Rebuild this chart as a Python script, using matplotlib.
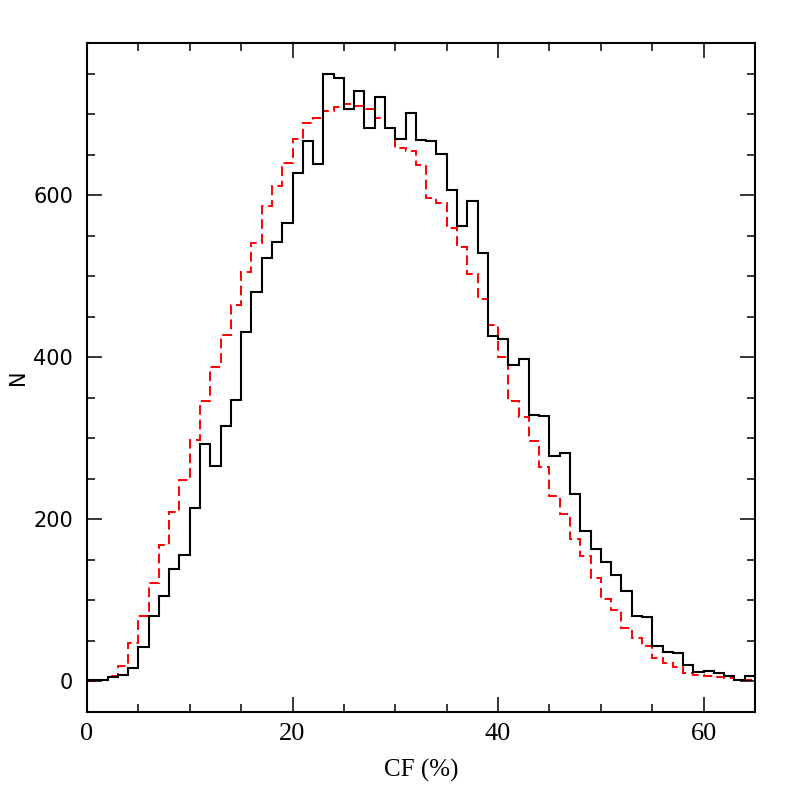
import numpy as np
import matplotlib
matplotlib.use("Agg")
import matplotlib.pyplot as plt
from matplotlib.ticker import MultipleLocator

# bin edges (width 1, CF in %)
edges = np.arange(0, 66)

# black solid histogram
n_black = [1, 1, 5, 8, 16, 42, 81, 105, 139, 156,
           214, 293, 266, 315, 347, 431, 480, 523, 542, 566,
           628, 667, 639, 750, 745, 707, 729, 683, 721, 683,
           669, 702, 668, 667, 651, 606, 562, 593, 529, 426,
           422, 390, 398, 329, 328, 278, 282, 231, 186, 163,
           147, 131, 111, 80, 79, 44, 36, 35, 20, 12,
           13, 10, 6, 2, 7]

# red dashed histogram
n_red = [0, 1, 6, 19, 47, 81, 121, 168, 209, 248,
         298, 346, 388, 428, 465, 505, 541, 587, 611, 640,
         670, 689, 695, 704, 709, 713, 710, 707, 696, 683,
         658, 655, 637, 597, 590, 560, 536, 503, 472, 440,
         400, 346, 326, 296, 265, 229, 207, 175, 154, 128,
         102, 88, 66, 53, 43, 29, 23, 18, 10, 8,
         6, 5, 4, 2, 2]

fig = plt.figure(figsize=(7.97, 7.97), dpi=100)
ax = fig.add_axes([87 / 797, 1 - 712 / 797, 668 / 797, 669 / 797])

ax.stairs(n_red, edges, color="red", lw=1.4, linestyle=(0, (5, 2.5)), baseline=None)
ax.stairs(n_black, edges, color="black", lw=1.5, baseline=None)

ax.set_xlim(0, 65)
ax.set_ylim(-38, 788)

ax.xaxis.set_major_locator(MultipleLocator(20))
ax.xaxis.set_minor_locator(MultipleLocator(5))
ax.yaxis.set_major_locator(MultipleLocator(200))
ax.yaxis.set_minor_locator(MultipleLocator(50))

ax.tick_params(which="both", direction="in", top=True, right=True, width=1.1)
ax.tick_params(which="major", length=11)
ax.tick_params(which="minor", length=5.5)
ax.tick_params(axis="x", pad=8)
ax.tick_params(axis="y", pad=10)
for lab in ax.get_xticklabels():
    lab.set_fontfamily("Liberation Serif")
    lab.set_fontsize(19)
for lab in ax.get_yticklabels():
    lab.set_fontfamily("DejaVu Sans")
    lab.set_fontsize(15)

for sp in ax.spines.values():
    sp.set_linewidth(1.5)

ax.set_xlabel("CF (%)", fontsize=18, family="Liberation Serif", labelpad=10)
ax.set_ylabel("N", fontsize=15, family="DejaVu Sans", labelpad=4)

fig.savefig("out.png", dpi=100)
